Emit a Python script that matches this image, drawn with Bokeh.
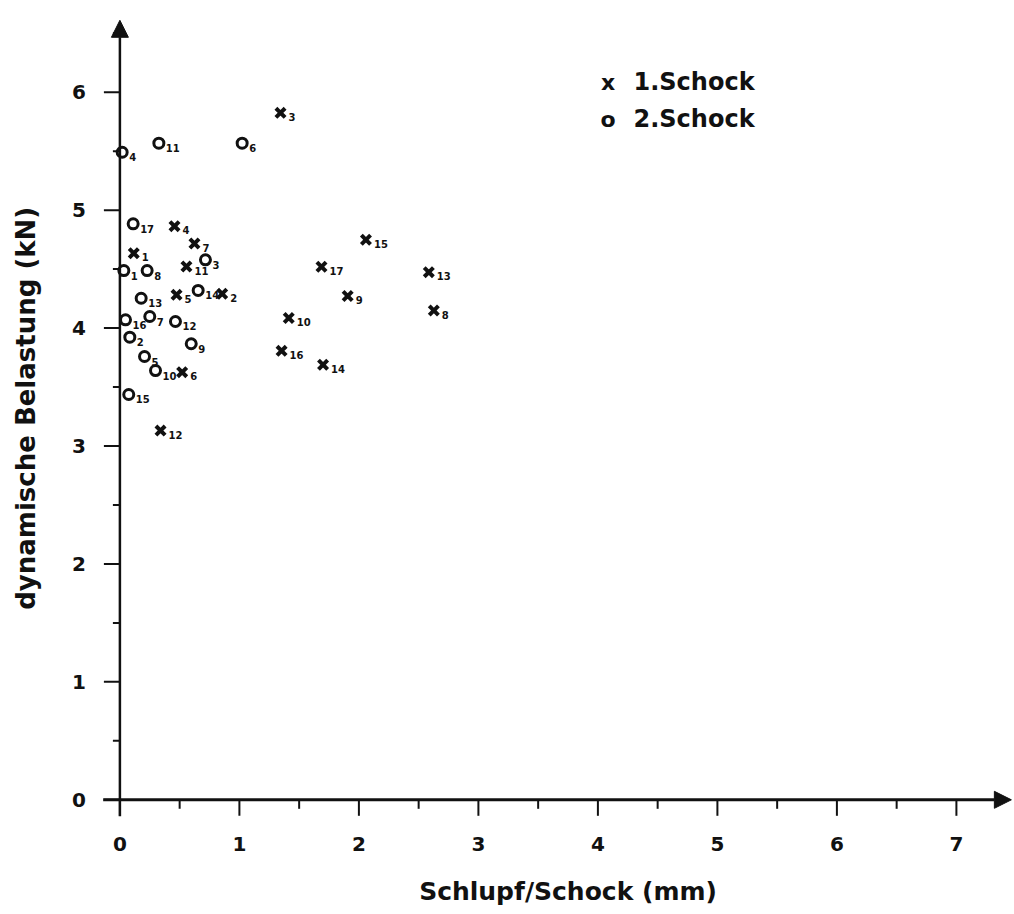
from bokeh.plotting import figure
from bokeh.models import Range1d, Arrow, NormalHead, ColumnDataSource
from bokeh.core.properties import value
from bokeh.embed import file_html
from bokeh.resources import INLINE

# ---------------- data ----------------
shock1_ids = [str(i) for i in range(1, 18)]
shock1_slip = [0.116, 0.856, 1.344, 0.457, 0.474, 0.521, 0.624, 2.627, 1.906,
               1.413, 0.557, 0.340, 2.585, 1.700, 2.059, 1.353, 1.687]
shock1_load = [4.635, 4.291, 5.825, 4.864, 4.282, 3.626, 4.717, 4.149, 4.272,
               4.085, 4.522, 3.131, 4.474, 3.689, 4.749, 3.807, 4.520]

shock2_ids = [str(i) for i in range(1, 18)]
shock2_slip = [0.033, 0.083, 0.716, 0.019, 0.206, 1.023, 0.250, 0.228, 0.597,
               0.298, 0.326, 0.465, 0.178, 0.655, 0.074, 0.047, 0.111]
shock2_load = [4.488, 3.923, 4.579, 5.491, 3.759, 5.568, 4.098, 4.488, 3.867,
               3.640, 5.568, 4.056, 4.253, 4.319, 3.437, 4.070, 4.884]

x_ticks = [0, 1, 2, 3, 4, 5, 6, 7]
x_minor = [0.5, 1.5, 2.5, 3.5, 4.5, 5.5, 6.5]
y_ticks = [0, 1, 2, 3, 4, 5, 6]
y_minor = [0.5, 1.5, 2.5, 3.5, 4.5, 5.5, 6.5]
x_tick_labels = [str(v) for v in x_ticks]
y_tick_labels = [str(v) for v in y_ticks]

legend_labels = ["1.Schock", "2.Schock"]
legend_symbols = ["x", "o"]
x_title = "Schlupf/Schock (mm)"
y_title = "dynamische Belastung (kN)"

# ---------------- layout ----------------
W, H = 1014, 914
PXX = 119.5    # px per unit x
PXY = 117.93   # px per unit y
X0 = 119.4     # canvas x of data 0
Y0 = 799.3     # canvas y of data 0

p = figure(width=W, height=H, output_backend="svg", toolbar_location=None,
           x_range=Range1d(-X0 / PXX, (W - X0) / PXX),
           y_range=Range1d(-(H - Y0) / PXY, Y0 / PXY),
           min_border=0)
p.axis.visible = False
p.grid.visible = False
p.outline_line_color = None
p.background_fill_color = "white"
p.border_fill_color = "white"

FONT = value("DejaVu Sans")
INK = "#111111"

# axes with arrows
x_tip, y_tip = 7.46, 6.61
p.add_layout(Arrow(end=NormalHead(size=17, fill_color=INK, line_color=INK),
                   x_start=-0.14, y_start=0, x_end=x_tip, y_end=0,
                   line_width=3, line_color=INK))
p.add_layout(Arrow(end=NormalHead(size=17, fill_color=INK, line_color=INK),
                   x_start=0, y_start=-0.14, x_end=0, y_end=y_tip,
                   line_width=2.5, line_color=INK))

# ticks
p.segment(x0=x_ticks, y0=[0] * len(x_ticks), x1=x_ticks,
          y1=[-16 / PXY] * len(x_ticks), line_width=2, line_color=INK)
p.segment(x0=x_minor, y0=[0] * len(x_minor), x1=x_minor,
          y1=[-9 / PXY] * len(x_minor), line_width=2, line_color=INK)
p.segment(x0=[0] * len(y_ticks), y0=y_ticks, x1=[-16 / PXX] * len(y_ticks),
          y1=y_ticks, line_width=2, line_color=INK)
p.segment(x0=[0] * len(y_minor), y0=y_minor, x1=[-7 / PXX] * len(y_minor),
          y1=y_minor, line_width=2, line_color=INK)

# tick labels
p.text(x=x_ticks, y=[-44 / PXY] * len(x_ticks), text=x_tick_labels,
       text_font=FONT, text_font_style="bold", text_font_size="20px",
       text_align="center", text_baseline="middle", text_color=INK)
p.text(x=[-41 / PXX] * len(y_ticks), y=y_ticks, text=y_tick_labels,
       text_font=FONT, text_font_style="bold", text_font_size="20px",
       text_align="center", text_baseline="middle", text_color=INK)

# axis titles
p.text(x=[3.75], y=[-92 / PXY], text=[x_title], text_font=FONT,
       text_font_style="bold", text_font_size="25px", text_align="center",
       text_baseline="middle", text_color=INK)
p.text(x=[-94 / PXX], y=[3.32], text=[y_title], text_font=FONT,
       text_font_style="bold", text_font_size="26px", text_align="center",
       text_baseline="middle", angle=1.5708, text_color=INK)

# data points
s1 = ColumnDataSource(dict(x=shock1_slip, y=shock1_load, t=shock1_ids))
s2 = ColumnDataSource(dict(x=shock2_slip, y=shock2_load, t=shock2_ids))
p.scatter("x", "y", source=s1, marker="x", size=13, line_width=4,
          line_color=INK)
p.scatter("x", "y", source=s2, marker="circle", size=10, line_width=3,
          line_color=INK, fill_color=None)
p.text("x", "y", text="t", source=s1, x_offset=8, y_offset=4,
       text_font=FONT, text_font_style="bold", text_font_size="10px",
       text_align="left", text_baseline="middle", text_color=INK)
p.text("x", "y", text="t", source=s2, x_offset=7, y_offset=5,
       text_font=FONT, text_font_style="bold", text_font_size="10px",
       text_align="left", text_baseline="middle", text_color=INK)

# legend
leg_y = [6.085, 5.769]
p.text(x=[4.085] * 2, y=leg_y, text=legend_symbols, text_font=FONT,
       text_font_style="bold", text_font_size="22px", text_align="center",
       text_baseline="middle", text_color=INK)
p.text(x=[4.298] * 2, y=leg_y, text=legend_labels, text_font=FONT,
       text_font_style="bold", text_font_size="24px", text_align="left",
       text_baseline="middle", text_color=INK)

open("out.html", "w").write(file_html(p, INLINE))
